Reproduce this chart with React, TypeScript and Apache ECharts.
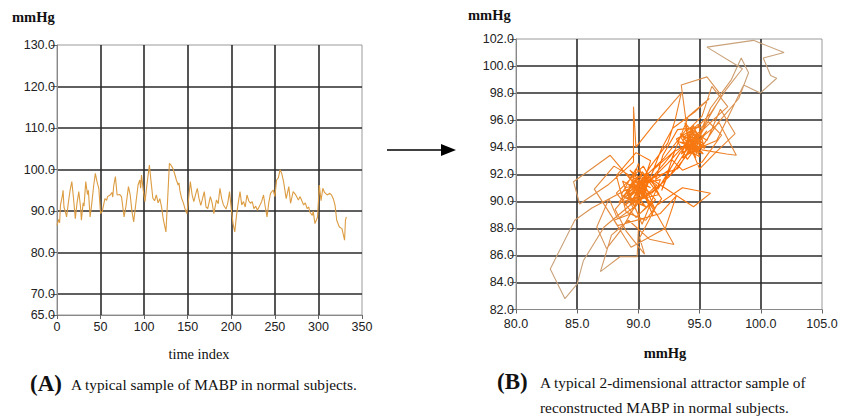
import React, { useEffect, useRef } from "react";
import * as echarts from "echarts";

const timeIndex = [0,2,3,4,6,7,8,10,11,13,15,17,19,21,23,25,27,28,30,31,33,35,36,38,40,42,44,46,48,50,52,55,57,58,61,63,64,65,67,69,72,74,77,79,82,84,86,88,90,93,95,96,97,99,101,103,106,108,110,112,114,116,118,120,122,125,127,129,131,133,135,137,139,140,141,143,145,147,149,151,153,155,157,159,161,163,165,167,169,171,173,176,178,180,183,185,187,189,191,194,196,198,200,202,204,206,208,210,212,214,216,218,220,222,224,226,228,230,233,235,237,239,241,243,245,248,250,252,254,256,258,260,263,266,268,271,274,277,279,280,283,285,287,289,290,293,294,296,299,301,303,305,307,310,313,315,317,319,321,324,327,330,331,332];
const mabp = [86.6,88.0,87.2,91.5,93.5,95.0,91.0,89.5,88.6,92.0,95.0,97.1,93.0,88.2,92.0,94.7,91.0,87.8,92.0,91.2,97.1,94.0,95.0,88.6,92.0,96.0,99.1,97.0,95.5,89.4,90.0,93.0,92.6,93.5,93.9,94.5,93.4,96.0,98.3,93.9,94.0,93.5,88.6,91.0,95.9,93.9,90.0,87.4,91.0,96.3,97.5,95.5,98.7,95.0,92.3,96.0,101.1,97.0,93.1,92.5,93.9,92.0,93.0,91.0,88.0,85.0,93.0,101.5,101.0,100.3,99.0,97.5,96.3,96.8,95.0,93.1,92.0,90.5,89.4,93.0,97.1,94.0,92.3,94.0,95.5,93.0,91.4,93.0,94.7,91.0,90.6,93.5,92.0,89.4,92.7,91.8,95.5,93.0,91.5,90.5,92.0,94.7,90.6,87.0,85.0,89.0,92.0,94.7,91.5,92.3,91.0,93.9,92.5,91.9,92.3,90.6,91.2,90.2,91.5,92.4,93.9,91.0,88.6,92.0,94.3,95.1,93.5,97.5,98.0,100.0,99.0,97.1,93.0,95.9,91.9,94.7,93.9,92.7,93.5,93.0,91.5,92.0,90.6,91.0,89.8,89.0,90.0,87.0,88.6,96.3,92.5,95.5,94.5,93.9,94.3,93.9,93.0,91.5,87.8,86.2,85.8,83.0,87.8,88.6];

const leftYTicks = [65, 70, 80, 90, 100, 110, 120, 130];

const attractor: number[][] = [
  [90.2,91.0],[89.1,90.2],[90.8,92.1],[89.6,89.4],[88.7,91.5],[90.5,90.6],[91.2,88.9],[89.9,91.8],[88.4,89.9],[90.1,90.3],
  [87.2,88.1],[85.5,85.6],[85.0,83.9],[84.0,82.8],[82.8,85.0],[84.8,88.6],[86.2,89.5],[88.9,90.8],
  [90.6,91.4],[89.3,92.3],[91.4,90.1],[90.0,89.0],[88.9,91.0],[91.8,91.6],[90.3,88.3],[89.2,90.7],[90.9,91.9],[89.7,90.4],
  [92.4,92.8],[94.2,94.6],[93.6,93.2],[95.1,94.1],[94.5,95.6],[93.8,94.2],[95.3,93.5],[94.0,94.9],[94.9,93.8],[93.3,94.4],[94.6,94.2],[95.6,95.2],[94.1,93.6],
  [96.4,94.5],[98.6,98.6],[99.95,98.0],[101.3,99.1],[100.8,99.3],[100.2,100.6],[101.9,101.0],[99.4,101.9],[95.6,101.4],[98.5,99.8],[97.2,98.3],[95.9,96.5],[94.4,95.1],
  [93.7,94.0],[95.0,93.3],[94.3,95.0],[93.5,93.5],[94.8,94.4],[95.4,94.9],[94.0,93.1],[93.1,94.6],[94.6,95.4],[95.2,93.8],
  [97.2,93.5],[98.0,93.4],[96.6,95.8],[95.0,94.6],
  [92.9,92.2],[91.1,90.6],[89.5,91.3],[90.4,89.7],[88.6,90.5],[89.8,92.4],[91.5,91.2],[90.1,90.0],
  [89.9,85.9],[88.5,85.9],[86.9,84.8],[87.8,87.5],[89.2,88.6],[90.9,87.2],[92.9,86.8],[91.6,88.9],[90.3,90.6],
  [87.7,93.4],[84.7,91.45],[85.2,89.8],[87.5,91.2],[89.6,92.9],[89.6,97.0],[89.8,94.0],[91.2,95.6],[93.5,98.0],[93.0,96.0],[92.4,94.3],[91.0,92.6],
  [90.0,91.2],[88.9,89.7],[90.7,90.9],[89.4,91.6],[91.3,89.5],[90.2,92.0],[88.8,90.3],[90.6,89.6],[89.5,90.9],
  [92.1,93.2],[93.9,95.3],[94.7,93.2],[93.4,94.8],[95.1,94.6],[94.2,93.9],[93.8,95.8],[95.5,94.0],[94.4,94.5],[96.2,96.1],[97.3,97.0],[96.0,98.5],[95.2,96.3],[94.0,95.2],
  [93.5,98.6],[95.6,99.2],[96.8,97.8],[95.3,95.5],[93.2,95.3],
  [92.0,93.4],[91.4,91.6],[92.6,92.4],[91.9,90.8],[93.0,93.8],[92.2,92.9],
  [90.5,91.1],[89.1,91.9],[91.0,89.9],[89.8,88.8],[88.2,90.6],[90.4,92.6],[91.7,90.5],[89.9,90.1],[90.8,91.8],
  [94.5,89.6],[95.9,90.6],[93.6,91.0],[91.5,89.7],[90.1,87.3],[90.5,86.1],[89.0,87.8],[88.1,89.4],
  [89.4,90.8],[90.9,91.5],[89.6,90.0],[90.3,92.2],[91.6,90.9],
  [93.4,93.6],[94.8,95.0],[94.1,94.0],[95.0,93.6],[94.4,94.8],[93.6,93.9],[94.9,94.3],[94.2,95.4],[95.6,94.5],[96.7,96.8],[97.9,95.0],[96.3,93.6],[95.0,92.4],[94.4,93.7],
  [95.9,96.9],[97.6,99.0],[98.4,100.6],[99.0,99.5],[98.2,97.6],[96.5,95.8],[95.4,94.3],
  [94.3,93.8],[93.6,94.5],[94.7,95.2],[95.2,94.0],[93.9,93.4],[94.5,94.6],
  [92.5,91.8],[90.7,90.4],[89.2,91.2],[90.4,91.6],[89.7,89.6],[88.3,88.7],[87.6,90.2],[86.6,88.1],[87.4,86.5],[88.6,87.9],[89.5,89.3],
  [90.6,90.7],[89.8,91.5],[91.0,91.0],
  [88.0,92.6],[86.4,90.9],[88.3,88.2],[91.8,89.1],[93.1,90.4],[92.2,88.0],[89.4,86.6],[88.0,88.6],[89.2,89.0],[90.3,90.2],
  [91.9,93.9],[92.8,95.4],[94.6,96.6],[95.8,97.6],[94.1,96.3],[92.7,93.1],[93.6,92.3],[95.2,92.9],[96.8,94.9],[95.7,95.9],
  [94.3,94.0],[93.4,95.0],[94.7,94.3],[95.3,95.3],[94.0,94.6],[93.9,93.7],[94.9,94.9],[93.2,92.4],[91.6,91.9],[90.3,91.3],
  [89.1,90.4],[90.0,92.8],[90.8,90.0],[89.6,91.1],[90.9,90.5],[89.3,89.7],[90.5,91.9],[91.9,90.2],[90.6,88.6],[89.0,89.2],
  [88.2,91.9],[89.8,93.6],[91.0,93.0],[90.2,90.8],[89.4,90.1],[90.7,91.2],[89.9,89.8],[91.3,92.4],[92.8,93.6],[94.1,94.3],
  [94.8,93.5],[94.3,95.1],[95.1,94.3],[93.7,94.1],[94.6,93.9],[94.0,95.0],[95.4,93.9],[94.9,95.7],[93.8,94.8]
];

export default function App() {
  const ref = useRef<HTMLDivElement>(null);
  useEffect(() => {
    const chart = echarts.init(ref.current!, null, { renderer: "svg" });
    const lbl = { color: "#222", fontFamily: "Liberation Sans, Arial, sans-serif", fontSize: 12.5 };
    const axisLine = { show: true, onZero: false, lineStyle: { color: "#888", width: 1 } };
    const tick = (len: number) => ({ show: true, length: len, lineStyle: { color: "#666" } });
    const split = { show: true, showMinLine: false, showMaxLine: false, lineStyle: { color: "#2b2b2b", width: 1.6 } };
    const f1 = (v: number) => v.toFixed(1);
    const serif = "Liberation Serif, Times New Roman, serif";
    chart.setOption({
      animation: false,
      backgroundColor: "#fff",
      grid: [
        { left: 57, top: 45, width: 305, height: 270, show: true, borderColor: "#9a9a9a", borderWidth: 1 },
        { left: 516, top: 39, width: 306, height: 270.5, show: true, borderColor: "#9a9a9a", borderWidth: 1 },
      ],
      xAxis: [
        { gridIndex: 0, type: "value", min: 0, max: 350, interval: 50, axisLine, axisTick: tick(4), axisLabel: { ...lbl, margin: 5 }, splitLine: split },
        { gridIndex: 1, type: "value", min: 80, max: 105, interval: 5, axisLine, axisTick: tick(4), axisLabel: { ...lbl, margin: 8, formatter: f1 }, splitLine: split },
      ],
      yAxis: [
        { gridIndex: 0, type: "value", min: 65, max: 130, axisLine, axisTick: { ...tick(6), customValues: leftYTicks }, axisLabel: { ...lbl, margin: 2, formatter: f1, customValues: leftYTicks }, splitLine: split },
        { gridIndex: 1, type: "value", min: 82, max: 102, interval: 2, axisLine, axisTick: tick(6), axisLabel: { ...lbl, margin: 2, formatter: f1 }, splitLine: split },
      ],
      series: [
        {
          type: "line", xAxisIndex: 0, yAxisIndex: 0, symbol: "none", showSymbol: false,
          data: timeIndex.map((t, i) => [t, mabp[i]]),
          lineStyle: { width: 1.1, color: "#dc9c42" },
        },
        {
          type: "line", xAxisIndex: 1, yAxisIndex: 1, symbol: "none", showSymbol: false,
          data: attractor,
          lineStyle: {
            width: 1.1,
            color: {
              type: "radial", x: 0.5, y: 0.5, r: 0.5,
              colorStops: [
                { offset: 0, color: "#ff6a00" },
                { offset: 0.35, color: "#f57a14" },
                { offset: 1, color: "#c9a27a" },
              ],
            },
          },
        },
      ],
      graphic: [
        { type: "text", left: 12, top: 9, style: { text: "mmHg", font: `bold 14.5px ${serif}`, fill: "#111" } },
        { type: "text", x: 199, y: 354, style: { text: "time index", font: `14.4px ${serif}`, fill: "#111", textAlign: "center", textVerticalAlign: "middle" } },
        { type: "text", left: 468, top: 7, style: { text: "mmHg", font: `bold 14.5px ${serif}`, fill: "#111" } },
        { type: "text", x: 665, y: 353, style: { text: "mmHg", font: `bold 14.5px ${serif}`, fill: "#111", textAlign: "center", textVerticalAlign: "middle" } },
        { type: "text", x: 30, y: 383, style: { text: "(A)", font: `bold 23px ${serif}`, fill: "#111", textVerticalAlign: "middle" } },
        { type: "text", x: 71, y: 384, style: { text: "A typical sample of MABP in normal subjects.", font: `15.3px ${serif}`, fill: "#111", textVerticalAlign: "middle" } },
        { type: "text", x: 497, y: 381, style: { text: "(B)", font: `bold 23px ${serif}`, fill: "#111", textVerticalAlign: "middle" } },
        { type: "text", x: 540, y: 382, style: { text: "A typical 2-dimensional attractor sample of", font: `15.3px ${serif}`, fill: "#111", textVerticalAlign: "middle" } },
        { type: "text", x: 540, y: 407, style: { text: "reconstructed MABP in normal subjects.", font: `15.3px ${serif}`, fill: "#111", textVerticalAlign: "middle" } },
        { type: "line", shape: { x1: 387, y1: 150, x2: 446, y2: 150 }, style: { stroke: "#000", lineWidth: 1.3 } },
        { type: "polygon", shape: { points: [[441, 144], [456, 150], [441, 156]] }, style: { fill: "#000" } },
      ],
    });
    return () => chart.dispose();
  }, []);
  return <div ref={ref} style={{ position: "fixed", left: 0, top: 0, width: 848, height: 419, background: "#fff" }} />;
}
